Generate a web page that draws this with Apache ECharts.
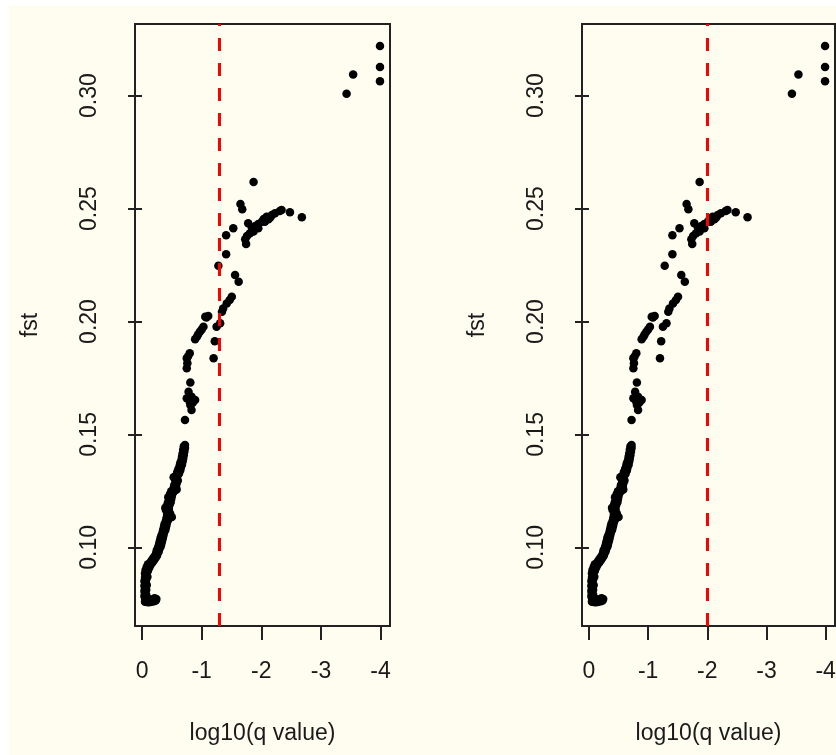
<!DOCTYPE html>
<html>
<head>
<meta charset="utf-8">
<script src="https://cdn.jsdelivr.net/npm/echarts@6/dist/echarts.min.js"></script>
<style>
  html, body { margin: 0; padding: 0; background: #ffffff; }
  #wrap { position: relative; width: 836px; height: 755px; overflow: hidden; }
  #paper { position: absolute; left: 9px; top: 5px; width: 827px; height: 750px; background: #FFFDF0; }
  #chart { position: absolute; left: 0; top: 0; width: 836px; height: 755px; }
</style>
</head>
<body>
<div id="wrap">
  <div id="paper"></div>
  <div id="chart"></div>
</div>
<script>
// -log10(q) value and fst for each locus, grouped by region of the curve
const tailPoints = [
  [3.99, 0.3220], [3.99, 0.3127], [3.99, 0.3064], [3.54, 0.3093], [3.43, 0.3008]
];

const shoulderPoints = [
  [1.87, 0.2618], [1.65, 0.2520], [1.68, 0.2497], [2.68, 0.2461], [2.48, 0.2484],
  [2.34, 0.2494], [2.31, 0.2489], [2.23, 0.2479], [2.18, 0.2472], [2.15, 0.2460],
  [2.09, 0.2464], [2.04, 0.2454], [2.01, 0.2442], [1.95, 0.2432], [1.90, 0.2423],
  [1.84, 0.2417], [1.78, 0.2435], [1.87, 0.2398], [1.81, 0.2391], [1.76, 0.2379],
  [1.73, 0.2364], [1.745, 0.2343], [1.95, 0.2413], [2.06, 0.2442], [2.12, 0.2453],
  [1.53, 0.2413], [1.41, 0.2382], [1.41, 0.2298], [1.28, 0.2247], [1.56, 0.2206],
  [1.62, 0.2176], [1.505, 0.2110], [1.47, 0.2095], [1.42, 0.2080], [1.36, 0.2058],
  [1.34, 0.2043], [1.11, 0.2024], [1.06, 0.2021], [1.08, 0.2018], [1.31, 0.1992],
  [1.25, 0.1977], [1.03, 0.1977], [1.00, 0.1965], [0.97, 0.1955], [0.94, 0.1942],
  [0.92, 0.1933], [0.89, 0.1921], [1.22, 0.1913], [1.20, 0.1837], [0.80, 0.1859],
  [0.77, 0.1845], [0.75, 0.1837], [0.76, 0.1815], [0.75, 0.1793], [0.81, 0.1730],
  [0.78, 0.1689], [0.83, 0.1667], [0.89, 0.1652], [0.75, 0.1660], [0.80, 0.1645],
  [0.81, 0.1630], [0.85, 0.1640], [0.83, 0.1608], [0.72, 0.1564]
];

const risePoints = [
  [0.21, 0.0960], [0.25, 0.0963], [0.23, 0.0968], [0.26, 0.0973], [0.24, 0.0978],
  [0.28, 0.0982], [0.25, 0.0988], [0.29, 0.0993], [0.27, 0.0998], [0.31, 0.1003],
  [0.28, 0.1008], [0.32, 0.1012], [0.29, 0.1018], [0.33, 0.1023], [0.30, 0.1028],
  [0.34, 0.1033], [0.31, 0.1039], [0.35, 0.1044], [0.32, 0.1049], [0.36, 0.1055],
  [0.34, 0.1060], [0.37, 0.1066], [0.35, 0.1072], [0.39, 0.1077], [0.36, 0.1083],
  [0.40, 0.1088], [0.37, 0.1094], [0.41, 0.1099], [0.38, 0.1105], [0.42, 0.1111],
  [0.40, 0.1117], [0.44, 0.1122], [0.50, 0.1135], [0.41, 0.1130], [0.45, 0.1138],
  [0.42, 0.1145], [0.47, 0.1150], [0.44, 0.1158], [0.40, 0.1165], [0.45, 0.1170],
  [0.39, 0.1175], [0.43, 0.1182], [0.46, 0.1188], [0.43, 0.1195], [0.48, 0.1200],
  [0.45, 0.1208], [0.49, 0.1214], [0.44, 0.1222], [0.50, 0.1228], [0.47, 0.1236],
  [0.52, 0.1242], [0.49, 0.1249], [0.55, 0.1252], [0.58, 0.1256], [0.53, 0.1262],
  [0.57, 0.1268], [0.54, 0.1276], [0.58, 0.1283], [0.56, 0.1290], [0.60, 0.1296],
  [0.57, 0.1303], [0.53, 0.1311], [0.56, 0.1316], [0.60, 0.1320], [0.62, 0.1327],
  [0.59, 0.1334], [0.64, 0.1340], [0.61, 0.1347], [0.65, 0.1353], [0.63, 0.1360],
  [0.67, 0.1366], [0.64, 0.1373], [0.68, 0.1380], [0.66, 0.1387], [0.69, 0.1394],
  [0.67, 0.1401], [0.70, 0.1408], [0.68, 0.1416], [0.71, 0.1424], [0.69, 0.1432],
  [0.72, 0.1440], [0.70, 0.1447], [0.72, 0.1453]
];

const basePoints = [
  [0.05, 0.0759], [0.08, 0.0758], [0.11, 0.0757], [0.14, 0.0758], [0.17, 0.0760],
  [0.20, 0.0762], [0.23, 0.0765], [0.24, 0.0772], [0.21, 0.0775], [0.16, 0.0768],
  [0.12, 0.0770], [0.08, 0.0772], [0.05, 0.0776], [0.04, 0.0785], [0.07, 0.0790],
  [0.05, 0.0798], [0.04, 0.0807], [0.07, 0.0812], [0.05, 0.0820], [0.04, 0.0830],
  [0.08, 0.0833], [0.06, 0.0842], [0.04, 0.0851], [0.07, 0.0858], [0.05, 0.0866],
  [0.09, 0.0870], [0.06, 0.0878], [0.05, 0.0886], [0.08, 0.0892], [0.10, 0.0897],
  [0.06, 0.0900], [0.09, 0.0906], [0.12, 0.0910], [0.08, 0.0914], [0.11, 0.0918],
  [0.14, 0.0921], [0.10, 0.0925], [0.13, 0.0929], [0.17, 0.0932], [0.15, 0.0937],
  [0.19, 0.0940], [0.17, 0.0945], [0.21, 0.0948], [0.19, 0.0952], [0.23, 0.0955],
  [0.18, 0.0766], [0.22, 0.0769], [0.10, 0.0764]
];

// significance cut-offs, as -log10(q): q = 0.05 and q = 0.01
const cutoffs = [1.30103, 2];

const xTicks = [0, 1, 2, 3, 4];
const yTicks = [0.10, 0.15, 0.20, 0.25, 0.30];

const allPoints = basePoints.concat(risePoints, shoulderPoints, tailPoints);

const FONT = "'Liberation Sans', Arial, sans-serif";
const INK = '#1a1a1a';

const panels = [
  { left: 135, width: 255 },
  { left: 582, width: 253 }
];

const grids = panels.map(p => ({
  left: p.left, top: 24, width: p.width, height: 602,
  show: true, borderColor: '#222', borderWidth: 2,
  backgroundColor: 'transparent',
  containLabel: false, outerBoundsMode: 'none'
}));

const xAxes = panels.map((p, i) => ({
  type: 'value', gridIndex: i,
  min: -0.118, max: 4.158,
  name: 'log10(q value)', nameLocation: 'middle', nameGap: 96,
  nameTextStyle: { fontFamily: FONT, fontSize: 23, color: INK },
  axisLine: { show: false },
  splitLine: { show: false },
  axisTick: { show: true, inside: false, length: 14, customValues: xTicks,
              lineStyle: { color: '#222', width: 2 } },
  axisLabel: { show: true, customValues: xTicks, margin: 34,
               fontFamily: FONT, fontSize: 23, color: INK,
               hideOverlap: false,
               formatter: v => (v === 0 ? '0' : '-' + v) }
}));

const yAxes = panels.map((p, i) => ({
  type: 'value', gridIndex: i,
  min: 0.0652, max: 0.3317,
  name: 'fst', nameLocation: 'middle', nameGap: 93,
  nameTextStyle: { fontFamily: FONT, fontSize: 23, color: INK },
  axisLine: { show: false },
  splitLine: { show: false },
  axisTick: { show: true, inside: false, length: 14, customValues: yTicks,
              lineStyle: { color: '#222', width: 2 } },
  axisLabel: { show: true, customValues: yTicks, margin: 34, rotate: 90,
               fontFamily: FONT, fontSize: 23, color: INK,
               hideOverlap: false,
               formatter: v => v.toFixed(2) }
}));

const series = panels.map((p, i) => ({
  type: 'scatter', xAxisIndex: i, yAxisIndex: i,
  data: allPoints,
  symbol: 'circle', symbolSize: 8.5,
  itemStyle: { color: '#000', opacity: 1 },
  silent: true,
  markLine: {
    silent: true, symbol: 'none',
    label: { show: false },
    lineStyle: { color: '#ff0000', type: [13, 12], width: 3, opacity: 1 },
    data: [{ xAxis: cutoffs[i] }]
  }
}));

const chart = echarts.init(document.getElementById('chart'), null, { renderer: 'canvas' });
chart.setOption({
  backgroundColor: 'transparent',
  animation: false,
  grid: grids,
  xAxis: xAxes,
  yAxis: yAxes,
  series: series
});
</script>
</body>
</html>
